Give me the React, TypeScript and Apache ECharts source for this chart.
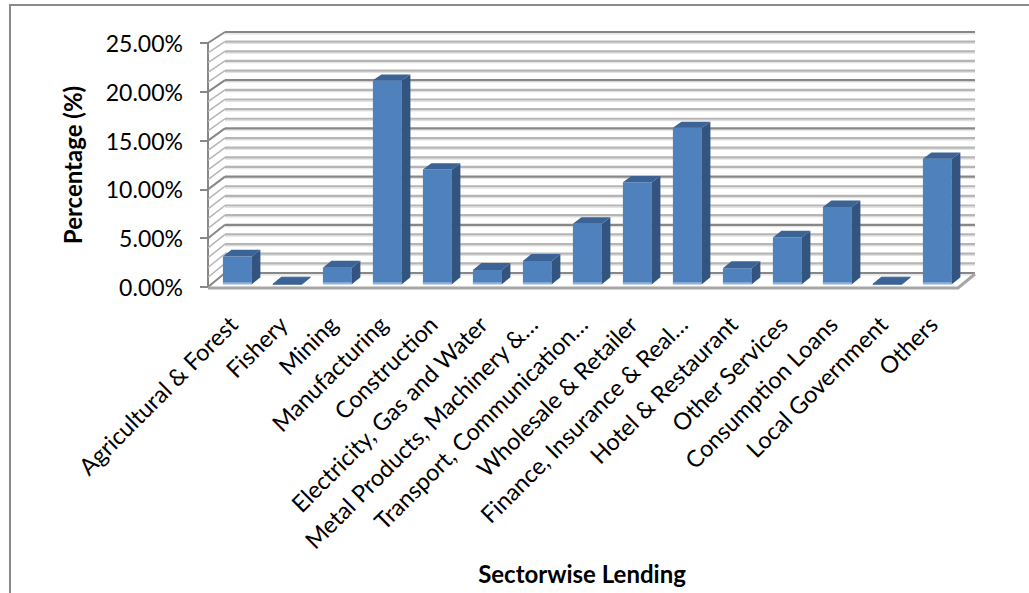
import React, { useEffect, useRef } from "react";
import * as echarts from "echarts";

const categories = [
  "Agricultural & Forest",
  "Fishery",
  "Mining",
  "Manufacturing",
  "Construction",
  "Electricity, Gas and Water",
  "Metal Products, Machinery &…",
  "Transport, Communication…",
  "Wholesale & Retailer",
  "Finance, Insurance & Real…",
  "Hotel & Restaurant",
  "Other Services",
  "Consumption Loans",
  "Local Government",
  "Others",
];

// percentage values (%)
const values = [2.84, 0, 1.7, 20.95, 11.77, 1.46, 2.39, 6.2, 10.46, 16.07, 1.64, 4.8, 7.93, 0, 12.88];

const yTicks = [0, 5, 10, 15, 20, 25];
const gridValues = [0, 1, 2, 3, 4, 5, 6, 7, 8, 9, 10, 11, 12, 13, 14, 15, 16, 17, 18, 19, 20, 21, 22, 23, 24, 25];

const FONT = "Lato, 'Open Sans', sans-serif";
const DX = 17;
const DY = 14;
const K = 241 / 244;

function proj(x: number, y: number, y0: number, f: number) {
  const yb = y0 - DY - (y0 - y) * K;
  return [x + DX * f, y + (yb - y) * f];
}

export default function App() {
  const ref = useRef<HTMLDivElement>(null);
  useEffect(() => {
    if (!ref.current) return;
    const chart = echarts.init(ref.current, undefined, { renderer: "svg" });

    const option: any = {
      animation: false,
      backgroundColor: "#ffffff",
      grid: { left: 208, top: 43, width: 750, height: 244, containLabel: false },
      xAxis: {
        type: "category",
        data: categories,
        axisLine: { show: false },
        axisTick: { show: false },
        splitLine: { show: false },
        axisLabel: {
          interval: 0,
          rotate: 45,
          margin: 33,
          fontSize: 23.5,
          fontFamily: FONT,
          color: "#000",
        },
      },
      yAxis: {
        type: "value",
        min: yTicks[0],
        max: yTicks[yTicks.length - 1],
        interval: 5,
        axisLine: { show: true, lineStyle: { color: "#878787", width: 2 } },
        axisTick: { show: true, length: 8, lineStyle: { color: "#878787", width: 2 } },
        splitLine: { show: false },
        axisLabel: {
          margin: 25,
          fontSize: 23,
          fontFamily: FONT,
          color: "#000",
          formatter: (v: number) => v.toFixed(2) + "%",
        },
      },
      graphic: [
        {
          type: "rect",
          shape: { x: 10, y: 5, width: 1040, height: 620 },
          style: { fill: "none", stroke: "#8a8a8a", lineWidth: 2 },
          silent: true,
        },
        {
          type: "text",
          x: 72,
          y: 165,
          rotation: Math.PI / 2,
          style: {
            text: "Percentage (%)",
            font: `bold 24px ${FONT}`,
            fill: "#000",
            align: "center",
            verticalAlign: "middle",
          },
        },
        {
          type: "text",
          x: 582,
          y: 573,
          style: {
            text: "Sectorwise Lending",
            font: `bold 24px ${FONT}`,
            fill: "#000",
            align: "center",
            verticalAlign: "middle",
          },
        },
      ],
      series: [
        {
          type: "custom",
          name: "walls",
          z: 1,
          silent: true,
          data: gridValues.map((v) => [0, v]),
          renderItem: (params: any, api: any) => {
            const v = api.value(1);
            const cs = params.coordSys;
            const xL = cs.x;
            const xR = cs.x + cs.width;
            const y0 = api.coord([0, 0])[1];
            const y = api.coord([0, v])[1];
            const major = v % 5 === 0;
            const col = major ? "#878787" : "#b5b5b5";
            const bL = proj(xL, y, y0, 1);
            const bR = proj(xR, y, y0, 1);
            const children: any[] = [
              {
                type: "line",
                shape: { x1: bL[0], y1: bL[1] + 1.8, x2: bR[0], y2: bR[1] + 1.8 },
                style: { stroke: "#e2e2e2", lineWidth: 1.2 },
              },
              {
                type: "line",
                shape: { x1: bL[0], y1: bL[1], x2: bR[0], y2: bR[1] },
                style: { stroke: col, lineWidth: 2.2 },
              },
              {
                type: "line",
                shape: { x1: xL, y1: y, x2: bL[0], y2: bL[1] },
                style: { stroke: col, lineWidth: major ? 2 : 1.5 },
              },
            ];
            if (v === 0) {
              const fR = proj(xR, y0, y0, 0);
              const bR0 = proj(xR, y0, y0, 1);
              children.push({
                type: "polyline",
                shape: { points: [[xL, y0 + 1], [fR[0], y0 + 1], [bR0[0], bR0[1] + 1]] },
                style: { stroke: "#a6a6a6", lineWidth: 3, fill: "none" },
              });
            }
            return { type: "group", children };
          },
        },
        {
          type: "custom",
          name: "bars",
          z: 2,
          data: values.map((v, i) => [i, v]),
          renderItem: (params: any, api: any) => {
            const i = api.value(0);
            const v = api.value(1);
            const c = api.coord([i, v]);
            const y0 = api.coord([i, 0])[1];
            const band = api.size([1, 0])[0];
            const w = band * 0.58;
            const xl = c[0] - w / 2 + 1;
            const xr = xl + w;
            const yt = c[1];
            const f1 = 0.2;
            const f2 = 0.7;
            const p = (x: number, y: number, f: number) => proj(x, y, y0, f);
            const top = {
              type: "polygon",
              shape: { points: [p(xl, yt, f1), p(xr, yt, f1), p(xr, yt, f2), p(xl, yt, f2)] },
              style: { fill: "#3b6396", stroke: v === 0 ? "#3b6396" : "none", lineWidth: 1 },
            };
            if (v === 0) {
              return { type: "group", children: [top] };
            }
            const fb = p(xl, y0, f1);
            return {
              type: "group",
              children: [
                {
                  type: "polygon",
                  shape: { points: [p(xl, yt, f1), p(xr, yt, f1), p(xr, y0, f1), p(xl, y0, f1)] },
                  style: { fill: "#4f81bd" },
                },
                {
                  type: "rect",
                  shape: { x: fb[0], y: fb[1] - 2, width: w, height: 2 },
                  style: { fill: "#8fb1de" },
                },
                {
                  type: "polygon",
                  shape: { points: [p(xr, yt, f1), p(xr, yt, f2), p(xr, y0, f2), p(xr, y0, f1)] },
                  style: { fill: "#32547f" },
                },
                top,
              ],
            };
          },
        },
      ],
    };

    chart.setOption(option);
    return () => chart.dispose();
  }, []);

  return (
    <div
      ref={ref}
      style={{ position: "absolute", left: 0, top: 0, width: 1029, height: 593 }}
    />
  );
}
